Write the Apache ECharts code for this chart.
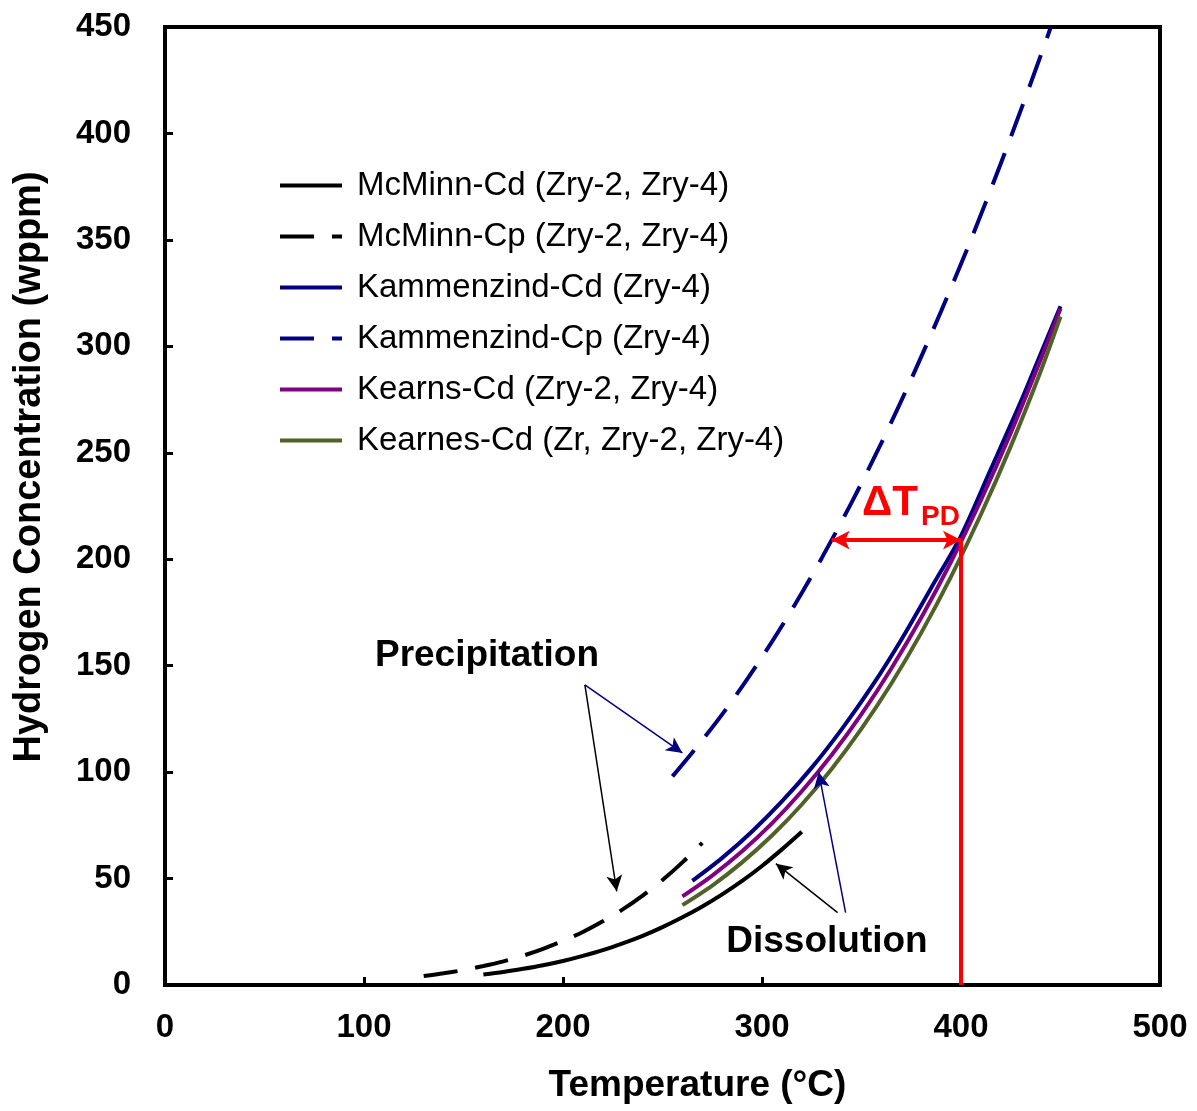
<!DOCTYPE html>
<html>
<head>
<meta charset="utf-8">
<script src="https://cdn.jsdelivr.net/npm/echarts@6/dist/echarts.min.js"></script>
<style>
html,body{margin:0;padding:0;background:#fff;}
#chart{width:1197px;height:1111px;}
</style>
</head>
<body>
<div id="chart"></div>
<script>
// temperatures (°C) and hydrogen concentration (wppm)
var mcminnCdT = [160,170,180,190,200,210,220,230,240,250,260,270,280,290,300,310,320];
var mcminnCd  = [4.9,6.1,7.6,9.3,11.3,13.7,16.4,19.6,23.1,27.2,31.8,36.9,42.6,48.9,55.9,63.7,72.0];
var mcminnCpT = [130,140,150,160,170,180,190,200,210,220,230,240,250,260,270];
var mcminnCp  = [4.2,5.5,7.0,8.9,11.1,13.8,17.0,20.7,24.9,29.9,35.5,42.0,49.3,57.6,66.8];
var kammCdT = [265,280,295,310,325,340,355,370,385,400,415,430,440,450];
var kammCd  = [48.9,59.7,72.1,86.2,102.1,120.1,140.0,162.2,186.5,211.0,242.3,273.9,296.4,318.8];
var kammCpT = [255,270,285,300,315,330,345,360,375,390,405,420,435,445];
var kammCp  = [98.0,115.0,133.5,154.0,176.3,200.5,226.6,254.6,284.6,316.5,350.1,385.9,423.5,449.6];
var kearnsT  = [260,275,290,305,320,335,350,365,380,395,410,425,440,450];
var kearnsCd = [41.6,51.4,62.8,75.9,91.0,108.0,127.2,148.7,172.5,198.8,227.7,259.3,293.7,317.7];
var kearnesCd = [37.5,46.7,57.6,70.2,84.8,101.5,120.4,141.6,165.4,191.8,221.0,253.0,288.2,314.0];
var names = ['McMinn-Cd (Zry-2, Zry-4)','McMinn-Cp (Zry-2, Zry-4)','Kammenzind-Cd (Zry-4)',
             'Kammenzind-Cp (Zry-4)','Kearns-Cd (Zry-2, Zry-4)','Kearnes-Cd (Zr, Zry-2, Zry-4)'];
var xTicks = [0,100,200,300,400,500];
var yTicks = [0,50,100,150,200,250,300,350,400,450];
// ΔT_PD marker: temperature 400, concentration 209, precipitation side 335
var dtpd = {t1:335, t2:400, c:209};

function pairs(xs, ys){
	var out = [];
	for (var i = 0; i < xs.length; i++) out.push([xs[i], ys[i]]);
	return out;
}
function curve(name, xs, ys, color, dashed){
	return {
		name: name, type: 'line', data: pairs(xs, ys),
		symbol: 'none', smooth: 0.3,
		lineStyle: {color: color, width: 4, type: dashed ? [34,18] : 'solid'},
		itemStyle: {color: color}
	};
}
function arrow(from, to, color, w){
	return [
		{coord: from, symbol: 'none', lineStyle: {color: color, width: w, type: 'solid'}},
		{coord: to, symbol: 'arrow', symbolSize: [12,16]}
	];
}

var chart = echarts.init(document.getElementById('chart'));
var font = 'Arial, "Liberation Sans", sans-serif';
var option = {
	animation: false,
	backgroundColor: '#fff',
	grid: {left:165, right:37, top:27, bottom:126, show:true, borderColor:'#000', borderWidth:4},
	legend: {
		data: names, orient: 'vertical', left: 278, top: 169, padding: 0,
		itemWidth: 62, itemHeight: 14, itemGap: 18,
		itemStyle: {opacity: 0},
		lineStyle: {width: 4},
		textStyle: {fontFamily: font, fontSize: 33, color: '#000', lineHeight: 30, padding: [0,0,0,10]}
	},
	xAxis: {
		type: 'value', min: xTicks[0], max: xTicks[xTicks.length-1], interval: 100,
		name: 'Temperature (°C)', nameLocation: 'middle', nameGap: 82,
		nameTextStyle: {fontFamily: font, fontSize: 37, fontWeight: 'bold', color: '#000', padding: [0,0,0,70]},
		axisLine: {lineStyle: {color: '#000', width: 4}},
		axisTick: {inside: true, length: 8, lineStyle: {color: '#000', width: 3}},
		axisLabel: {fontFamily: font, fontSize: 33, fontWeight: 'bold', color: '#000', margin: 26},
		splitLine: {show: false}
	},
	yAxis: {
		type: 'value', min: yTicks[0], max: yTicks[yTicks.length-1], interval: 50,
		name: 'Hydrogen Concentration (wppm)', nameLocation: 'middle', nameGap: 116,
		nameTextStyle: {fontFamily: font, fontSize: 38, fontWeight: 'bold', color: '#000', padding: [0,0,0,78]},
		axisLine: {lineStyle: {color: '#000', width: 4}},
		axisTick: {inside: true, length: 8, lineStyle: {color: '#000', width: 3}},
		axisLabel: {fontFamily: font, fontSize: 33, fontWeight: 'bold', color: '#000', margin: 34},
		splitLine: {show: false}
	},
	series: [
		curve(names[0], mcminnCdT, mcminnCd, '#000000', false),
		curve(names[1], mcminnCpT, mcminnCp, '#000000', true),
		curve(names[2], kammCdT, kammCd, '#000080', false),
		curve(names[3], kammCpT, kammCp, '#000080', true),
		curve(names[4], kearnsT, kearnsCd, '#800080', false),
		curve(names[5], kearnsT, kearnesCd, '#4f6228', false),
		{
			name: 'annotations', type: 'line', data: [], symbol: 'none',
			markLine: {
				silent: true, animation: false, label: {show: false},
				data: [
					arrow([211,141], [260,109], '#000080', 1.5),
					arrow([211,141], [227,44], '#000000', 1.5),
					arrow([338,34], [307,57], '#000000', 1.5),
					arrow([342,34], [328.5,100], '#000080', 1.5),
					[
						{coord: [dtpd.t2, 0], symbol: 'none', lineStyle: {color: '#ff0000', width: 4, type: 'solid'}},
						{coord: [dtpd.t2, dtpd.c], symbol: 'none'}
					],
					[
						{coord: [dtpd.t1, dtpd.c], symbol: 'arrow', symbolSize: [14,18], lineStyle: {color: '#ff0000', width: 4, type: 'solid'}},
						{coord: [dtpd.t2, dtpd.c], symbol: 'arrow', symbolSize: [14,18]}
					]
				]
			}
		}
	],
	graphic: [
		{type: 'text', x: 487, y: 656, style: {text: 'Precipitation', font: 'bold 37px ' + font, fill: '#000', align: 'center', verticalAlign: 'middle'}},
		{type: 'text', x: 827, y: 942, style: {text: 'Dissolution', font: 'bold 37px ' + font, fill: '#000', align: 'center', verticalAlign: 'middle'}},
		{type: 'text', x: 862, y: 503, style: {text: 'ΔT', font: 'bold 42px ' + font, fill: '#ff0000', align: 'left', verticalAlign: 'middle'}},
		{type: 'text', x: 921, y: 517, style: {text: 'PD', font: 'bold 28px ' + font, fill: '#ff0000', align: 'left', verticalAlign: 'middle'}}
	]
};
chart.setOption(option);
</script>
</body>
</html>
